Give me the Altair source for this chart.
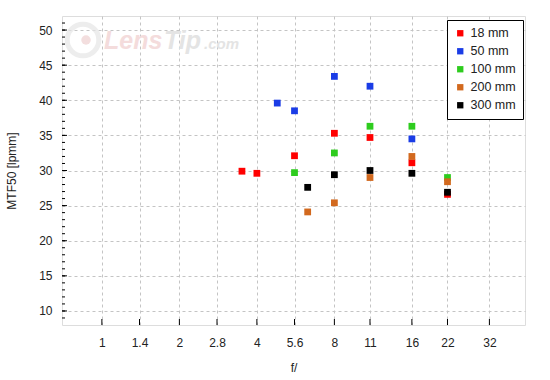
import altair as alt
import pandas as pd

FS = "\u2007"
series_names = [FS * 2 + "18 mm", FS * 2 + "50 mm", FS + "100 mm", FS + "200 mm", FS + "300 mm"]
series_colors = ["#ff0000", "#1a3ce6", "#2ecc1e", "#d2691e", "#000000"]

f_18 = [3.5, 4, 5.6, 8, 11, 16, 22]
mtf_18 = [29.9, 29.6, 32.1, 35.3, 34.7, 31.1, 26.6]
f_50 = [4.8, 5.6, 8, 11, 16]
mtf_50 = [39.6, 38.5, 43.4, 42.0, 34.5]
f_100 = [5.6, 8, 11, 16, 22]
mtf_100 = [29.7, 32.5, 36.3, 36.3, 29.0]
f_200 = [6.3, 8, 11, 16, 22]
mtf_200 = [24.1, 25.4, 29.0, 32.0, 28.4]
f_300 = [6.3, 8, 11, 16, 22]
mtf_300 = [27.6, 29.4, 30.0, 29.6, 26.9]

x_ticks = [1, 1.4, 2, 2.8, 4, 5.6, 8, 11, 16, 22, 32]
y_ticks = [10, 15, 20, 25, 30, 35, 40, 45, 50]
y_minor = list(range(9, 52))

rows = []
for name, fs, ms in zip(series_names, [f_18, f_50, f_100, f_200, f_300],
                        [mtf_18, mtf_50, mtf_100, mtf_200, mtf_300]):
    for f, m in zip(fs, ms):
        rows.append({"series": name, "f": f, "mtf": m, "order": series_names.index(name)})
df = pd.DataFrame(rows)

W, H = 463, 309
xscale = alt.Scale(type="log", domain=[0.7, 44], nice=False)
yscale = alt.Scale(domain=[8, 52], nice=False, zero=False)

font = "Liberation Sans"
txt = "#222222"

xaxis = alt.Axis(
    values=x_ticks, format="~g", title="f/", grid=True, gridDash=[3, 3], gridColor="#c4c4c4",
    ticks=False, domain=False, labelPadding=12, titlePadding=14, labelFontSize=12,
    labelOverlap=False,
    titleFontSize=12, titleFontWeight="normal", labelColor=txt, titleColor=txt, labelFont=font, titleFont=font)
yaxis = alt.Axis(
    values=y_ticks, title="MTF50 [lpmm]", grid=True, gridDash=[3, 3], gridColor="#c4c4c4",
    ticks=False, domain=False, labelPadding=10, titlePadding=20, labelFontSize=12,
    labelOverlap=False,
    titleFontSize=12, titleFontWeight="normal", labelColor=txt, titleColor=txt, labelFont=font, titleFont=font)

one = pd.DataFrame({"a": [1]})
logo_circle = alt.Chart(one).mark_point(
    shape="circle", size=1000, filled=False, stroke="#e6e6e6", strokeWidth=5
).encode(x=alt.value(21), y=alt.value(24))
logo_dot = alt.Chart(one).mark_point(
    shape="circle", size=90, filled=True, color="#f3dede", opacity=1
).encode(x=alt.value(24), y=alt.value(24))
logo_lens = alt.Chart(pd.DataFrame({"t": ["Lens"]})).mark_text(
    font="Liberation Sans", fontSize=25, fontStyle="italic", fontWeight="bold",
    color="#f4dcdc", align="left", baseline="alphabetic"
).encode(text="t:N", x=alt.value(42), y=alt.value(33))
logo_tip = alt.Chart(pd.DataFrame({"t": ["Tip"]})).mark_text(
    font="Liberation Sans", fontSize=25, fontStyle="italic", fontWeight="bold",
    color="#e4e4e4", align="left", baseline="alphabetic"
).encode(text="t:N", x=alt.value(102), y=alt.value(33))
logo_com = alt.Chart(pd.DataFrame({"t": [".com"]})).mark_text(
    font="Liberation Sans", fontSize=15, fontStyle="italic", fontWeight="bold",
    color="#e4e4e4", align="left", baseline="alphabetic"
).encode(text="t:N", x=alt.value(142), y=alt.value(33))

points = alt.Chart(df).mark_point(shape="square", filled=True, size=46, opacity=1, strokeWidth=0).encode(
    x=alt.X("f:Q", scale=xscale, axis=xaxis),
    y=alt.Y("mtf:Q", scale=yscale, axis=yaxis),
    color=alt.Color("series:N", scale=alt.Scale(domain=series_names, range=series_colors),
                    legend=alt.Legend(title=None, orient="none", legendX=385, legendY=4,
                                      strokeColor="#000000", fillColor="#ffffff", padding=7,
                                      symbolType="square", symbolSize=40, symbolStrokeWidth=0,
                                      labelFontSize=12.5, labelFont=font, labelColor=txt,
                                      rowPadding=5, labelOffset=4)),
    order=alt.Order("order:Q"),
)

xt = alt.Chart(pd.DataFrame({"f": x_ticks})).mark_rule(color="#000000", strokeWidth=1).encode(
    x=alt.X("f:Q", scale=xscale, axis=xaxis), y=alt.value(H), y2=alt.value(H - 6))
ymaj = alt.Chart(pd.DataFrame({"mtf": y_ticks})).mark_rule(color="#000000", strokeWidth=1).encode(
    y=alt.Y("mtf:Q", scale=yscale, axis=yaxis), x=alt.value(0), x2=alt.value(5))
ymin = alt.Chart(pd.DataFrame({"mtf": y_minor})).mark_rule(color="#000000", strokeWidth=1).encode(
    y=alt.Y("mtf:Q", scale=yscale, axis=yaxis), x=alt.value(0), x2=alt.value(3))

chart = alt.layer(logo_circle, logo_dot, logo_lens, logo_tip, logo_com, points, xt, ymaj, ymin).properties(
    width=W, height=H,
    autosize=alt.AutoSizeParams(type="none"),
    padding={"left": 62, "top": 16, "right": 25, "bottom": 55},
    background="#ffffff",
).configure_view(stroke="#000000", strokeWidth=1.2, fill="#ffffff").configure(font=font)

chart.save("out.html", embed_options={"renderer": "svg", "actions": False})
